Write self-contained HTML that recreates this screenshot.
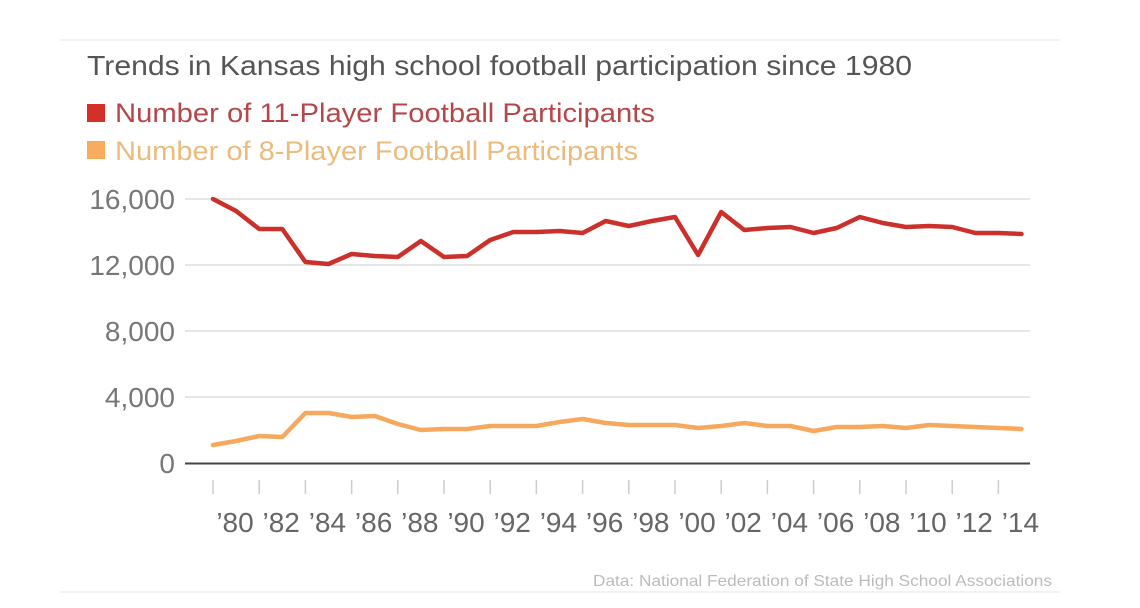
<!DOCTYPE html>
<html><head><meta charset="utf-8"><style>
html,body{margin:0;padding:0;background:#fff;width:1140px;height:608px;overflow:hidden}
svg text{font-family:"Liberation Sans",sans-serif}
</style></head><body>
<svg width="1140" height="608" viewBox="0 0 1140 608" xmlns="http://www.w3.org/2000/svg">
<line x1="60" y1="40" x2="1060" y2="40" stroke="#eee" stroke-width="1.5"/>
<line x1="60" y1="592" x2="1060" y2="592" stroke="#eee" stroke-width="1.5"/>
<text x="87" y="75" font-size="28" fill="#555" textLength="825" lengthAdjust="spacingAndGlyphs">Trends in Kansas high school football participation since 1980</text>
<rect x="87" y="104" width="18" height="18" fill="#d3302a"/>
<text x="115" y="122" font-size="27" fill="#b5464a" textLength="540" lengthAdjust="spacingAndGlyphs">Number of 11-Player Football Participants</text>
<rect x="87" y="141" width="18" height="18" fill="#f7ac5e"/>
<text x="115" y="160" font-size="27" fill="#ebbb7d" textLength="523" lengthAdjust="spacingAndGlyphs">Number of 8-Player Football Participants</text>
<g stroke="#ddd" stroke-width="1.5">
<line x1="185" y1="199" x2="1030" y2="199"/>
<line x1="185" y1="265" x2="1030" y2="265"/>
<line x1="185" y1="331" x2="1030" y2="331"/>
<line x1="185" y1="397" x2="1030" y2="397"/>
</g>
<line x1="185" y1="463.5" x2="1030" y2="463.5" stroke="#444" stroke-width="2"/>
<g font-size="28" fill="#777" text-anchor="end">
<text x="175" y="209">16,000</text>
<text x="175" y="275">12,000</text>
<text x="175" y="341">8,000</text>
<text x="175" y="407">4,000</text>
<text x="175" y="473">0</text>
</g>
<g stroke="#ccc" stroke-width="1.5" id="ticks"></g>
<g font-size="28" fill="#666" text-anchor="middle" id="xl"></g>
<polyline id="red" fill="none" stroke="#cc302b" stroke-width="4.5" stroke-linejoin="round" stroke-linecap="round"/>
<polyline id="org" fill="none" stroke="#f5a85e" stroke-width="4.5" stroke-linejoin="round" stroke-linecap="round"/>
<text x="593" y="586" font-size="16" fill="#bbb" textLength="459" lengthAdjust="spacingAndGlyphs">Data: National Federation of State High School Associations</text>
</svg>
<script>
var red=[199,211,229,229,262,264,254,256,257,241,257,256,240,232,232,231,233,221,226,221,217,255,212,230,228,227,233,228,217,223,227,226,227,233,233,234];
var org=[445,441,436,437,413,413,417,416,424,430,429,429,426,426,426,422,419,423,425,425,425,428,426,423,426,426,431,427,427,426,428,425,426,427,428,429];
function X(i){return 213+23.1*i;}
document.getElementById('red').setAttribute('points',red.map((y,i)=>X(i)+','+y).join(' '));
document.getElementById('org').setAttribute('points',org.map((y,i)=>X(i)+','+y).join(' '));
var NS='http://www.w3.org/2000/svg';
var tg=document.getElementById('ticks'),xg=document.getElementById('xl');
for(var i=0;i<=34;i+=2){
 var ln=document.createElementNS(NS,'line');ln.setAttribute('x1',X(i));ln.setAttribute('x2',X(i));ln.setAttribute('y1',480);ln.setAttribute('y2',494);tg.appendChild(ln);
 var tx=document.createElementNS(NS,'text');tx.setAttribute('x',X(i)+22);tx.setAttribute('y',532);
 var yr=(80+i)%100;tx.textContent="\u2019"+(yr<10?'0'+yr:yr);xg.appendChild(tx);
}
</script>
</body></html>
